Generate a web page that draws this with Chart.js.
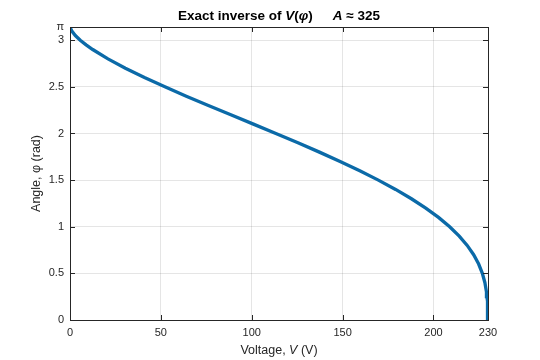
<!DOCTYPE html>
<html><head><meta charset="utf-8">
<script src="https://cdn.jsdelivr.net/npm/chart.js@4/dist/chart.umd.min.js"></script>
<style>html,body{margin:0;padding:0;background:#fff}</style>
</head><body><canvas id="c" width="540" height="360"></canvas>
<script>
// Angle φ (rad) and corresponding voltage V (V)
const angle   = [0, 0.05, 0.1, 0.15, 0.2, 0.25, 0.3, 0.4, 0.5, 0.6, 0.7, 0.8, 0.9, 1.0, 1.1, 1.2, 1.3, 1.4, 1.5, 1.6, 1.7, 1.8, 1.9, 2.0, 2.1, 2.2, 2.3, 2.4, 2.5, 2.6, 2.7, 2.8, 2.9, 2.95, 3.0, 3.05, 3.1, 3.1416];
const voltage = [229.8, 229.8, 229.78, 229.73, 229.62, 229.43, 229.16, 228.3, 226.89, 224.86, 222.1, 218.55, 214.17, 208.91, 202.77, 195.75, 187.86, 179.15, 169.66, 159.45, 148.62, 137.24, 125.42, 113.27, 100.92, 88.49, 76.13, 63.98, 52.21, 40.97, 30.47, 20.89, 12.5, 8.85, 5.63, 2.93, 0.92, 0];
const xTickValues = [0, 50, 100, 150, 200, 230];
const xTickLabels = ['0', '50', '100', '150', '200', '230'];
const yTickValues = [0, 0.5, 1, 1.5, 2, 2.5, 3, Math.PI];
const yTickLabels = ['0', '0.5', '1', '1.5', '2', '2.5', '3', 'π'];

const FONT = '"Liberation Sans", Arial, Helvetica, sans-serif';
const INK = '#262626';

function drawSegs(ctx, segs, cx, cy) {
  let total = 0;
  segs.forEach(s => { ctx.font = s.f; s.w = s.gap !== undefined ? s.gap : ctx.measureText(s.t).width; total += s.w; });
  let x = cx - total / 2;
  ctx.textBaseline = 'middle';
  ctx.textAlign = 'left';
  segs.forEach(s => { if (s.t) { ctx.font = s.f; ctx.fillText(s.t, x, cy); } x += s.w; });
}

const matlabPlugin = {
  id: 'matlab',
  afterDraw(chart) {
    const ctx = chart.ctx, a = chart.chartArea;
    const xs = chart.scales.x, ys = chart.scales.y;
    ctx.save();
    ctx.strokeStyle = INK; ctx.lineWidth = 1;
    ctx.strokeRect(Math.round(a.left) + 0.5, Math.round(a.top) + 0.5, Math.round(a.right - a.left), Math.round(a.bottom - a.top));
    ctx.beginPath();
    const L = 5;
    xTickValues.forEach(v => {
      const px = Math.round(xs.getPixelForValue(v)) + 0.5;
      ctx.moveTo(px, a.bottom); ctx.lineTo(px, a.bottom - L);
      ctx.moveTo(px, a.top); ctx.lineTo(px, a.top + L);
    });
    yTickValues.forEach(v => {
      const py = Math.round(ys.getPixelForValue(v)) + 0.5;
      ctx.moveTo(a.left, py); ctx.lineTo(a.left + L, py);
      ctx.moveTo(a.right, py); ctx.lineTo(a.right - L, py);
    });
    ctx.stroke();
    ctx.fillStyle = '#000';
    const b = 'bold 13.5px ' + FONT, bi = 'italic bold 13.5px ' + FONT;
    drawSegs(ctx, [
      {t: 'Exact inverse of ', f: b}, {t: 'V', f: bi}, {t: '(', f: b}, {t: 'φ', f: bi}, {t: ')', f: b},
      {gap: 20, t: '', f: b}, {t: 'A', f: bi}, {t: ' ≈ 325', f: b}
    ], (a.left + a.right) / 2, 16);
    ctx.fillStyle = INK;
    const n = '12.5px ' + FONT, it = 'italic 12.5px ' + FONT;
    drawSegs(ctx, [{t: 'Voltage, ', f: n}, {t: 'V', f: it}, {t: ' (V)', f: n}], (a.left + a.right) / 2, 351);
    ctx.save();
    ctx.translate(37, (a.top + a.bottom) / 2);
    ctx.rotate(-Math.PI / 2);
    drawSegs(ctx, [{t: 'Angle, ', f: n}, {t: 'φ', f: n}, {t: ' (rad)', f: n}], 0, 0);
    ctx.restore();
    ctx.restore();
  }
};

new Chart(document.getElementById('c'), {
  type: 'scatter',
  data: {
    datasets: [{
      data: voltage.map((v, i) => ({x: v, y: angle[i]})),
      showLine: true,
      borderColor: '#0b6aa8',
      backgroundColor: '#0b6aa8',
      borderWidth: 3.3,
      pointRadius: 0,
      tension: 0
    }]
  },
  options: {
    responsive: false,
    animation: false,
    devicePixelRatio: 1,
    layout: {padding: {top: 27, right: 52, left: 0, bottom: 0}},
    plugins: {legend: {display: false}, tooltip: {enabled: false}, title: {display: false}},
    scales: {
      x: {
        type: 'linear', min: 0, max: 230,
        afterBuildTicks: s => { s.ticks = xTickValues.map(v => ({value: v})); },
        afterFit: s => { s.height = 40; },
        ticks: {autoSkip: false, maxRotation: 0, padding: 6, color: INK, font: {family: FONT, size: 11},
                callback: (v, i) => xTickLabels[i]},
        grid: {color: 'rgba(38,38,38,0.12)', drawTicks: false},
        border: {display: false}
      },
      y: {
        type: 'linear', min: 0, max: Math.PI,
        afterBuildTicks: s => { s.ticks = yTickValues.map(v => ({value: v})); },
        afterFit: s => { s.width = 70; },
        ticks: {autoSkip: false, padding: 6, color: INK, font: {family: FONT, size: 11},
                callback: (v, i) => yTickLabels[i]},
        grid: {color: 'rgba(38,38,38,0.12)', drawTicks: false},
        border: {display: false}
      }
    }
  },
  plugins: [matlabPlugin]
});
</script></body></html>
